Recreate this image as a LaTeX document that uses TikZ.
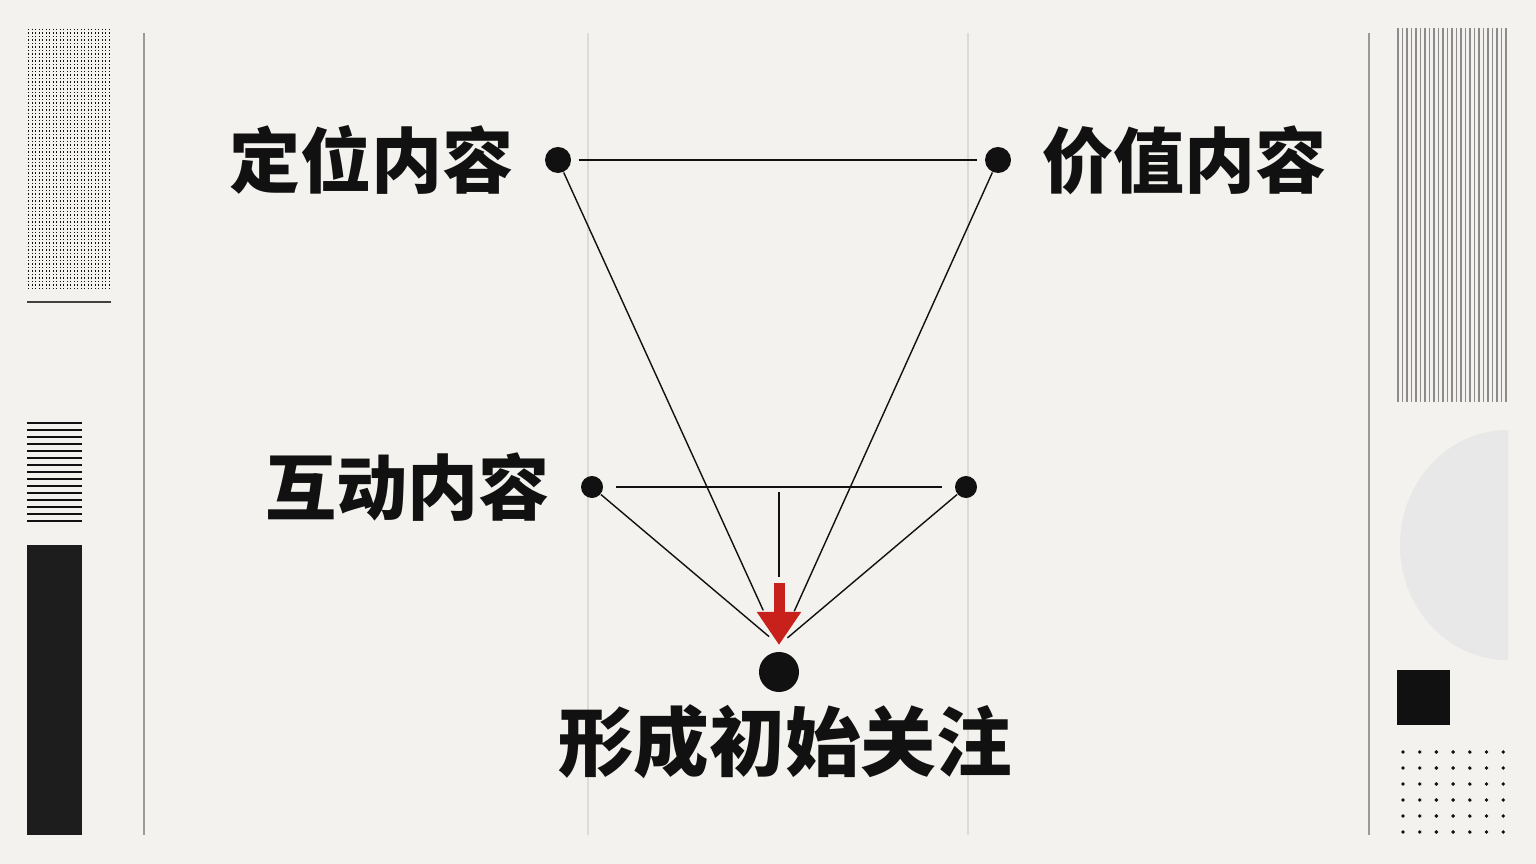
\documentclass[tikz,border=0pt]{standalone}
\usepackage{fontspec}
\newfontfamily\cjk{Noto Sans CJK SC}
\usepackage{tikz}
\usetikzlibrary{calc,positioning,arrows.meta}
\definecolor{paper}{HTML}{F3F2EE}
\definecolor{ink}{HTML}{111111}
\definecolor{accent}{HTML}{C8201A}
\definecolor{guide}{HTML}{9A9A9A}
\definecolor{faint}{HTML}{DCDBD7}

\begin{document}
\begin{tikzpicture}[x=0.01cm,y=-0.01cm,
  dot/.style={circle,fill=ink,inner sep=0pt,minimum size=#1},
  link/.style={draw=ink,line width=0.4pt},
  lbl/.style={font=\cjk\bfseries\fontsize{20.2}{24}\selectfont,text=ink,inner sep=0pt},
  stripe/.style={line width=0.35pt}]
\fill[paper] (0,0) rectangle (1536,864);
\useasboundingbox (0,0) rectangle (1536,864);

% guides
\draw[guide,line width=0.5pt] (144,33)--(144,835);
\draw[guide,line width=0.5pt] (1369,33)--(1369,835);
\draw[faint,line width=0.4pt] (588,33)--(588,835);
\draw[faint,line width=0.4pt] (968,33)--(968,835);

% left side decoration
\foreach \i in {0,...,23}
  \foreach \j in {0,...,74}
    \fill[ink] (28+\i*3.5,29+\j*3.5) rectangle ++(1.1,1.2);
\draw[ink!80,line width=0.4pt] (27,302)--(111,302);
\foreach \k in {0,...,14}
  \draw[ink,stripe] (27,423+\k*7)--(82,423+\k*7);
\fill[ink!95] (27,545) rectangle (82,835);

% right side decoration
\foreach \k in {0,...,24}
  \draw[guide!90!black,stripe] (1398+\k*4.5,28)--++(0,374);
\fill[black!9] (1508,430) arc[start angle=90,end angle=270,x radius=1.08cm,y radius=1.15cm]--cycle;
\fill[ink] (1397,670) rectangle (1450,725);
\foreach \i in {0,...,6}
  \foreach \j in {0,...,5}
    \fill[ink] (1403+\i*16.7,752+\j*16) circle (0.55pt);

% points
\node[dot=2.6mm] (n_pos) at (558,160) {};
\node[dot=2.6mm] (n_val) at (998,160) {};
\node[dot=2.2mm] (n_int) at (592,487) {};
\node[dot=2.2mm] (n_end) at (966,487) {};
\node[dot=4mm] (n_goal) at (779,672) {};
\coordinate (n_mid) at (779,487);
\coordinate (n_tail) at (779,583);
\coordinate (n_hub) at (779,645);

% labels
\node[lbl,left=3mm of n_pos] (t_pos) {定位内容};
\node[lbl,right=3mm of n_val] (t_val) {价值内容};
\node[lbl,left=3mm of n_int] (t_int) {互动内容};
\node[lbl,below=1.1mm of n_goal,xshift=0.6mm,font=\cjk\bfseries\fontsize{21.5}{26}\selectfont] (t_goal) {形成初始关注};

% connectors
\draw[link,shorten <=0.7mm,shorten >=0.7mm] (n_pos)--(n_val);
\draw[link,shorten <=1.2mm,shorten >=1.2mm] (n_int)--(n_end);
\draw[link,shorten >=3.8mm] (n_pos)--(n_hub);
\draw[link,shorten >=3.7mm] (n_val)--(n_hub);
\draw[link,shorten >=1.3mm] (n_int)--(n_hub);
\draw[link,shorten >=1.1mm] (n_end)--(n_hub);
\draw[link,shorten <=0.5mm,shorten >=0.6mm] (n_mid)--(n_tail);
\draw[accent,line width=1.1mm,-{Triangle[width=4.2mm,length=3.3mm]}] (n_tail)--(n_hub);
\end{tikzpicture}
\end{document}
